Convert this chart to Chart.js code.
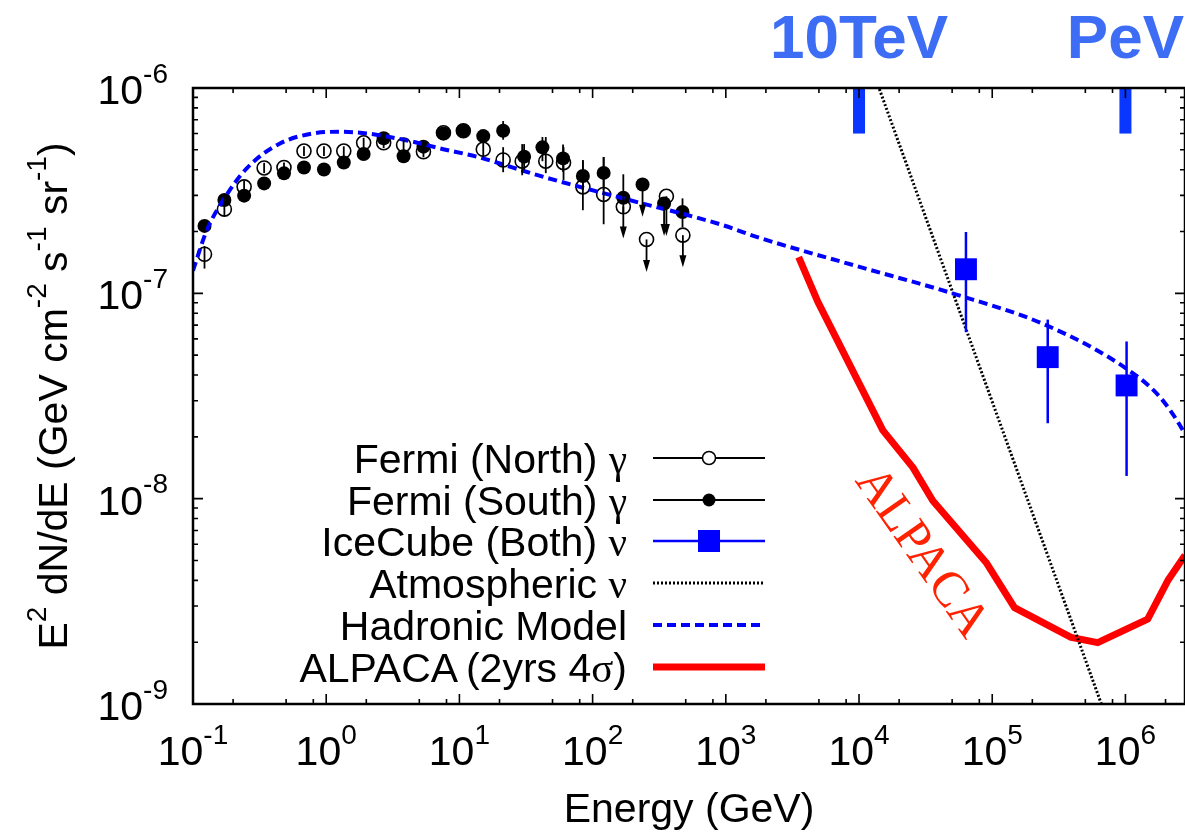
<!DOCTYPE html>
<html>
<head>
<meta charset="utf-8">
<script src="https://cdn.jsdelivr.net/npm/chart.js@4.4.1/dist/chart.umd.min.js"></script>
<style>
  html, body { margin: 0; padding: 0; background: #ffffff; overflow: hidden; }
  #wrap { width: 1185px; height: 832px; overflow: hidden; }
  canvas { display: block; width: 1185px; height: 832px; }
</style>
</head>
<body>
<div id="wrap"><canvas id="spectrum" width="1185" height="832"></canvas></div>
<script>
// Fermi-LAT gamma rays, north region (E in GeV, E^2 dN/dE in GeV cm^-2 s^-1 sr^-1)
const northE = [0.122, 0.172, 0.242, 0.342, 0.482, 0.681, 0.962, 1.355, 1.91, 2.70, 3.81, 5.37, 7.59, 10.7, 15.1, 21.3, 29.6, 44.5, 60.5, 84.5, 121, 170, 254, 358, 476];
const northF = [1.55e-7, 2.57e-7, 3.30e-7, 4.08e-7, 4.10e-7, 4.93e-7, 4.93e-7, 4.93e-7, 5.41e-7, 5.41e-7, 5.28e-7, 4.89e-7, 6.05e-7, 6.19e-7, 5.03e-7, 4.46e-7, 4.40e-7, 4.40e-7, 4.33e-7, 3.30e-7, 3.03e-7, 2.64e-7, 1.83e-7, 2.97e-7, 1.92e-7];
const northLo = [1.32e-7, 2.38e-7, 3.08e-7, 3.85e-7, 3.87e-7, 4.66e-7, 4.66e-7, 4.66e-7, 5.10e-7, 5.10e-7, 4.98e-7, 4.60e-7, 5.70e-7, 5.85e-7, 4.60e-7, 3.89e-7, 3.76e-7, 3.85e-7, 3.56e-7, 2.54e-7, 2.17e-7, 1.85e-7, 1.27e-7, 1.90e-7, 1.34e-7];
const northHi = [1.70e-7, 2.76e-7, 3.53e-7, 4.32e-7, 4.34e-7, 5.20e-7, 5.20e-7, 5.20e-7, 5.72e-7, 5.72e-7, 5.58e-7, 5.18e-7, 6.40e-7, 6.55e-7, 5.55e-7, 5.15e-7, 5.33e-7, 5.77e-7, 5.15e-7, 4.45e-7, 4.61e-7, 2.64e-7, 1.83e-7, 2.97e-7, 1.92e-7];
const northUL = [0, 0, 0, 0, 0, 0, 0, 0, 0, 0, 0, 0, 0, 0, 0, 0, 0, 0, 0, 0, 0, 1, 1, 1, 1];

// Fermi-LAT gamma rays, south region
const southE = [0.122, 0.172, 0.242, 0.342, 0.482, 0.681, 0.962, 1.355, 1.91, 2.70, 3.81, 5.37, 7.59, 10.7, 15.1, 21.3, 30.6, 42.0, 60.0, 84.5, 121, 170, 237, 344, 473];
const southF = [2.13e-7, 2.85e-7, 2.99e-7, 3.43e-7, 3.84e-7, 4.10e-7, 4.01e-7, 4.34e-7, 4.77e-7, 5.69e-7, 4.65e-7, 5.18e-7, 6.01e-7, 6.19e-7, 5.83e-7, 6.19e-7, 4.63e-7, 5.14e-7, 4.54e-7, 3.73e-7, 3.86e-7, 2.92e-7, 3.39e-7, 2.74e-7, 2.49e-7];
const southLo = [2.00e-7, 2.70e-7, 2.85e-7, 3.25e-7, 3.65e-7, 3.90e-7, 3.80e-7, 4.10e-7, 4.50e-7, 5.40e-7, 4.40e-7, 4.90e-7, 5.70e-7, 5.90e-7, 5.50e-7, 5.60e-7, 4.00e-7, 4.40e-7, 3.90e-7, 3.20e-7, 3.20e-7, 2.45e-7, 2.36e-7, 1.90e-7, 2.10e-7];
const southHi = [2.27e-7, 3.00e-7, 3.15e-7, 3.60e-7, 4.05e-7, 4.30e-7, 4.20e-7, 4.55e-7, 5.05e-7, 6.00e-7, 4.90e-7, 5.45e-7, 6.30e-7, 6.50e-7, 6.20e-7, 6.90e-7, 5.33e-7, 5.77e-7, 5.30e-7, 4.45e-7, 4.61e-7, 3.80e-7, 3.39e-7, 2.74e-7, 2.90e-7];
const southUL = [0, 0, 0, 0, 0, 0, 0, 0, 0, 0, 0, 0, 0, 0, 0, 0, 0, 0, 0, 0, 0, 0, 1, 1, 0];

// IceCube neutrinos, both regions
const iceE = [6.35e4, 2.61e5, 1.02e6];
const iceF = [1.31e-7, 4.89e-8, 3.56e-8];
const iceLo = [6.47e-8, 2.33e-8, 1.29e-8];
const iceHi = [1.99e-7, 7.45e-8, 5.83e-8];

// atmospheric neutrino background (power law)
const atmE = [1e4, 1e6];
const atmF = [1.86e-6, 4.73e-10];

// hadronic model prediction
const hadronE = [0.1, 0.127, 0.169, 0.253, 0.450, 0.80, 1.27, 2.01, 4.51, 7.14, 13.5, 39.8, 180, 903, 1807, 9506, 5.09e4, 2.56e5, 1.02e6, 1.82e6, 2.70e6, 2.8e6];
const hadronF = [1.29e-7, 2.03e-7, 2.85e-7, 4.06e-7, 5.37e-7, 6.01e-7, 6.12e-7, 6.01e-7, 5.47e-7, 5.08e-7, 4.63e-7, 3.74e-7, 2.87e-7, 2.17e-7, 1.86e-7, 1.36e-7, 9.97e-8, 6.98e-8, 4.29e-8, 3.12e-8, 2.15e-8, 2.05e-8];

// ALPACA 2-year 4 sigma sensitivity
const alpacaE = [3524, 4909, 15100, 25350, 35810, 89950, 146900, 390800, 619400, 1.469e6, 2.075e6, 2.8e6];
const alpacaF = [1.50e-7, 9.08e-8, 2.15e-8, 1.42e-8, 9.77e-9, 4.89e-9, 2.95e-9, 2.11e-9, 1.99e-9, 2.59e-9, 3.98e-9, 5.30e-9];

// energy markers along the top
const markerE = [1e4, 1e6];
const markerNames = ['10TeV', 'PeV'];
const markerSpan = [6.0e-7, 1e-6];

// axis range and decades
const xRange = [0.1, 2.8e6];
const yRange = [1e-9, 1e-6];
const xDecades = [-1, 0, 1, 2, 3, 4, 5, 6];
const yDecades = [-9, -8, -7, -6];
const xMinor = [2, 5, 8];
const yMinor = [2, 3, 4, 5, 6, 7, 8, 9];

const SANS = '"Liberation Sans", Arial, Helvetica, sans-serif';
const SERIF = '"Liberation Serif", "Times New Roman", serif';
const FS = 41;

const pts = (xs, ys) => xs.map((x, i) => ({ x, y: ys[i] }));

function partFont(kind, size) {
    if (kind === 'sup') return `${Math.round(size * 0.68)}px ${SANS}`;
    if (kind === 'greek') return `${size}px ${SERIF}`;
    return `${size}px ${SANS}`;
}

function richWidth(ctx, parts, size) {
    let w = 0;
    for (const [text, kind] of parts) {
        ctx.font = partFont(kind, size);
        w += ctx.measureText(text).width;
    }
    return w;
}

function drawRich(ctx, parts, x, y, size, align) {
    const w = richWidth(ctx, parts, size);
    let cx = align === 'center' ? x - w / 2 : align === 'right' ? x - w : x;
    ctx.textAlign = 'left';
    ctx.textBaseline = 'alphabetic';
    for (const [text, kind] of parts) {
        ctx.font = partFont(kind, size);
        ctx.fillText(text, cx, kind === 'sup' ? y - size * 0.52 : y);
        cx += ctx.measureText(text).width;
    }
}

function arrowDown(ctx, x, y0, y1) {
    ctx.beginPath();
    ctx.moveTo(x, y0);
    ctx.lineTo(x, y1 - 6);
    ctx.stroke();
    ctx.beginPath();
    ctx.moveTo(x, y1);
    ctx.lineTo(x - 3.5, y1 - 12);
    ctx.lineTo(x + 3.5, y1 - 12);
    ctx.closePath();
    ctx.fill();
}

// keep the axis span exactly as given instead of rounding it out to ticks
function pinRange(range) {
    return (scale) => {
        scale.min = range[0];
        scale.max = range[1];
    };
}

// vertical error bars and upper-limit arrows
const errorBars = {
    id: 'errorBars',
    afterDatasetsDraw(chart) {
        const { ctx, chartArea } = chart;
        const xs = chart.scales.x;
        const ys = chart.scales.y;
        ctx.save();
        ctx.beginPath();
        ctx.rect(chartArea.left, chartArea.top, chartArea.right - chartArea.left, chartArea.bottom - chartArea.top);
        ctx.clip();
        chart.data.datasets.forEach((ds) => {
            if (!ds.errLo) return;
            ctx.strokeStyle = ds.barColor;
            ctx.fillStyle = ds.barColor;
            ctx.lineWidth = ds.barWidth;
            ds.data.forEach((p, i) => {
                const px = xs.getPixelForValue(p.x);
                const lo = ys.getPixelForValue(ds.errLo[i]);
                const hi = ys.getPixelForValue(ds.errHi[i]);
                if (ds.upper && ds.upper[i]) {
                    arrowDown(ctx, px, hi, lo);
                } else {
                    ctx.beginPath();
                    ctx.moveTo(px, hi);
                    ctx.lineTo(px, lo);
                    ctx.stroke();
                }
            });
        });
        ctx.restore();
    },
};

// frame, ticks, tick labels, titles, key and annotations
const decorations = {
    id: 'decorations',
    afterDraw(chart) {
        const { ctx, chartArea } = chart;
        const { left, right, top, bottom } = chartArea;
        const xs = chart.scales.x;
        const ys = chart.scales.y;
        ctx.save();

        // energy markers and their names
        markerE.forEach((e, i) => {
            const px = xs.getPixelForValue(e);
            const y0 = ys.getPixelForValue(markerSpan[1]);
            const y1 = ys.getPixelForValue(markerSpan[0]);
            ctx.fillStyle = '#0a37ff';
            ctx.fillRect(px - 6, y0, 12, y1 - y0);
            ctx.fillStyle = '#3d6df5';
            ctx.font = `bold 62px ${SANS}`;
            ctx.textAlign = 'center';
            ctx.textBaseline = 'alphabetic';
            ctx.fillText(markerNames[i], px, 58);
        });

        // border
        ctx.strokeStyle = '#000000';
        ctx.lineWidth = 2.5;
        ctx.strokeRect(left, top, right - left, bottom - top);

        // ticks on all four sides, pointing inward
        ctx.lineWidth = 1.6;
        ctx.beginPath();
        xDecades.forEach((d) => {
            const major = xs.getPixelForValue(10 ** d);
            ctx.moveTo(major, bottom); ctx.lineTo(major, bottom - 10);
            ctx.moveTo(major, top); ctx.lineTo(major, top + 10);
            xMinor.forEach((m) => {
                const v = m * 10 ** d;
                if (v > xs.max) return;
                const px = xs.getPixelForValue(v);
                ctx.moveTo(px, bottom); ctx.lineTo(px, bottom - 5);
                ctx.moveTo(px, top); ctx.lineTo(px, top + 5);
            });
        });
        yDecades.forEach((d) => {
            const major = ys.getPixelForValue(10 ** d);
            ctx.moveTo(left, major); ctx.lineTo(left + 10, major);
            ctx.moveTo(right, major); ctx.lineTo(right - 10, major);
            if (d === yDecades[yDecades.length - 1]) return;
            yMinor.forEach((m) => {
                const py = ys.getPixelForValue(m * 10 ** d);
                ctx.moveTo(left, py); ctx.lineTo(left + 5, py);
                ctx.moveTo(right, py); ctx.lineTo(right - 5, py);
            });
        });
        ctx.stroke();

        // tick labels
        ctx.fillStyle = '#000000';
        xDecades.forEach((d) => {
            drawRich(ctx, [['10', 'n'], [String(d), 'sup']], xs.getPixelForValue(10 ** d), 765, FS, 'center');
        });
        yDecades.forEach((d) => {
            drawRich(ctx, [['10', 'n'], [String(d), 'sup']], 168, ys.getPixelForValue(10 ** d) + 16, FS, 'right');
        });

        // axis titles
        drawRich(ctx, [['Energy (GeV)', 'n']], (left + right) / 2, 822, FS, 'center');
        ctx.save();
        ctx.translate(67, (top + bottom) / 2);
        ctx.rotate(-Math.PI / 2);
        drawRich(ctx, [
            ['E', 'n'], ['2', 'sup'], [' dN/dE (GeV cm', 'n'], ['-2', 'sup'],
            [' s', 'n'], ['-1', 'sup'], [' sr', 'n'], ['-1', 'sup'], [')', 'n'],
        ], 0, 0, FS, 'center');
        ctx.restore();

        // rotated name beside the sensitivity curve
        ctx.save();
        ctx.translate(921, 553);
        ctx.rotate(55 * Math.PI / 180);
        ctx.fillStyle = '#ff2200';
        ctx.font = `50px ${SERIF}`;
        ctx.textAlign = 'center';
        ctx.textBaseline = 'middle';
        ctx.fillText('ALPACA', 0, 0);
        ctx.restore();

        // key
        const rows = [458, 500, 541, 583, 625, 667];
        const x0 = 653;
        const x1 = 765;
        const xm = 709;
        chart.data.datasets.forEach((ds) => {
            const y = rows[ds.keyRow];
            ctx.fillStyle = '#000000';
            drawRich(ctx, ds.keyParts, 627, y + 15, FS, 'right');
            ctx.strokeStyle = ds.borderColor;
            ctx.fillStyle = ds.borderColor;
            ctx.setLineDash(ds.borderDash || []);
            if (ds.showLine) {
                ctx.lineWidth = ds.borderWidth;
                ctx.beginPath();
                ctx.moveTo(x0, y); ctx.lineTo(x1, y);
                ctx.stroke();
                ctx.setLineDash([]);
                return;
            }
            ctx.lineWidth = ds.barWidth;
            ctx.beginPath();
            if (ds.keyHollow) {
                ctx.moveTo(x0, y); ctx.lineTo(xm - 6.5, y);
                ctx.moveTo(xm + 6.5, y); ctx.lineTo(x1, y);
                ctx.stroke();
                ctx.lineWidth = 1.5;
                ctx.beginPath();
                ctx.arc(xm, y, 6.5, 0, Math.PI * 2);
                ctx.stroke();
            } else {
                ctx.moveTo(x0, y); ctx.lineTo(x1, y);
                ctx.stroke();
                if (ds.pointStyle === 'rect') {
                    ctx.fillRect(xm - 11, y - 11, 22, 22);
                } else {
                    ctx.beginPath();
                    ctx.arc(xm, y, 6.5, 0, Math.PI * 2);
                    ctx.fill();
                }
            }
        });

        ctx.restore();
    },
};

new Chart(document.getElementById('spectrum'), {
    type: 'scatter',
    data: {
        datasets: [
            {
                label: 'Hadronic Model',
                keyRow: 4,
                keyParts: [['Hadronic Model', 'n']],
                data: pts(hadronE, hadronF),
                showLine: true,
                borderColor: '#0000ff',
                borderWidth: 4,
                borderDash: [9, 5],
                pointRadius: 0,
                cubicInterpolationMode: 'monotone',
                clip: 0,
            },
            {
                label: 'IceCube (Both) ν',
                keyRow: 2,
                keyParts: [['IceCube (Both) ', 'n'], ['ν', 'greek']],
                data: pts(iceE, iceF),
                errLo: iceLo,
                errHi: iceHi,
                barColor: '#0000ff',
                barWidth: 2.5,
                pointStyle: 'rect',
                pointRadius: 15.5,
                backgroundColor: '#0000ff',
                borderColor: '#0000ff',
                borderWidth: 0,
            },
            {
                label: 'Atmospheric ν',
                keyRow: 3,
                keyParts: [['Atmospheric ', 'n'], ['ν', 'greek']],
                data: pts(atmE, atmF),
                showLine: true,
                borderColor: '#000000',
                borderWidth: 3,
                borderDash: [2, 2],
                pointRadius: 0,
                clip: 0,
            },
            {
                label: 'ALPACA (2yrs 4σ)',
                keyRow: 5,
                keyParts: [['ALPACA', 'n'], [' ', 'sup'], ['(2yrs 4', 'n'], ['σ', 'greek'], [')', 'n']],
                data: pts(alpacaE, alpacaF),
                showLine: true,
                borderColor: '#ff0000',
                borderWidth: 7,
                borderJoinStyle: 'round',
                pointRadius: 0,
                clip: 0,
            },
            {
                label: 'Fermi (South) γ',
                keyRow: 1,
                keyParts: [['Fermi (South) ', 'n'], ['γ', 'greek']],
                data: pts(southE, southF),
                errLo: southLo,
                errHi: southHi,
                upper: southUL,
                barColor: '#000000',
                barWidth: 1.8,
                pointStyle: 'circle',
                pointRadius: 7,
                backgroundColor: '#000000',
                borderColor: '#000000',
                borderWidth: 0,
            },
            {
                label: 'Fermi (North) γ',
                keyRow: 0,
                keyParts: [['Fermi (North) ', 'n'], ['γ', 'greek']],
                keyHollow: true,
                data: pts(northE, northF),
                errLo: northLo,
                errHi: northHi,
                upper: northUL,
                barColor: '#000000',
                barWidth: 1.8,
                pointStyle: 'circle',
                pointRadius: 7,
                backgroundColor: 'rgba(0, 0, 0, 0)',
                borderColor: '#000000',
                borderWidth: 1.6,
            },
        ],
    },
    options: {
        responsive: false,
        animation: false,
        devicePixelRatio: 1,
        layout: { autoPadding: false, padding: { left: 193, right: 0, top: 88, bottom: 128 } },
        scales: {
            x: { type: 'logarithmic', min: xRange[0], max: xRange[1], display: false, afterBuildTicks: pinRange(xRange) },
            y: { type: 'logarithmic', min: yRange[0], max: yRange[1], display: false, afterBuildTicks: pinRange(yRange) },
        },
        plugins: {
            legend: { display: false },
            tooltip: { enabled: false },
        },
    },
    plugins: [errorBars, decorations],
});
</script>
</body>
</html>
